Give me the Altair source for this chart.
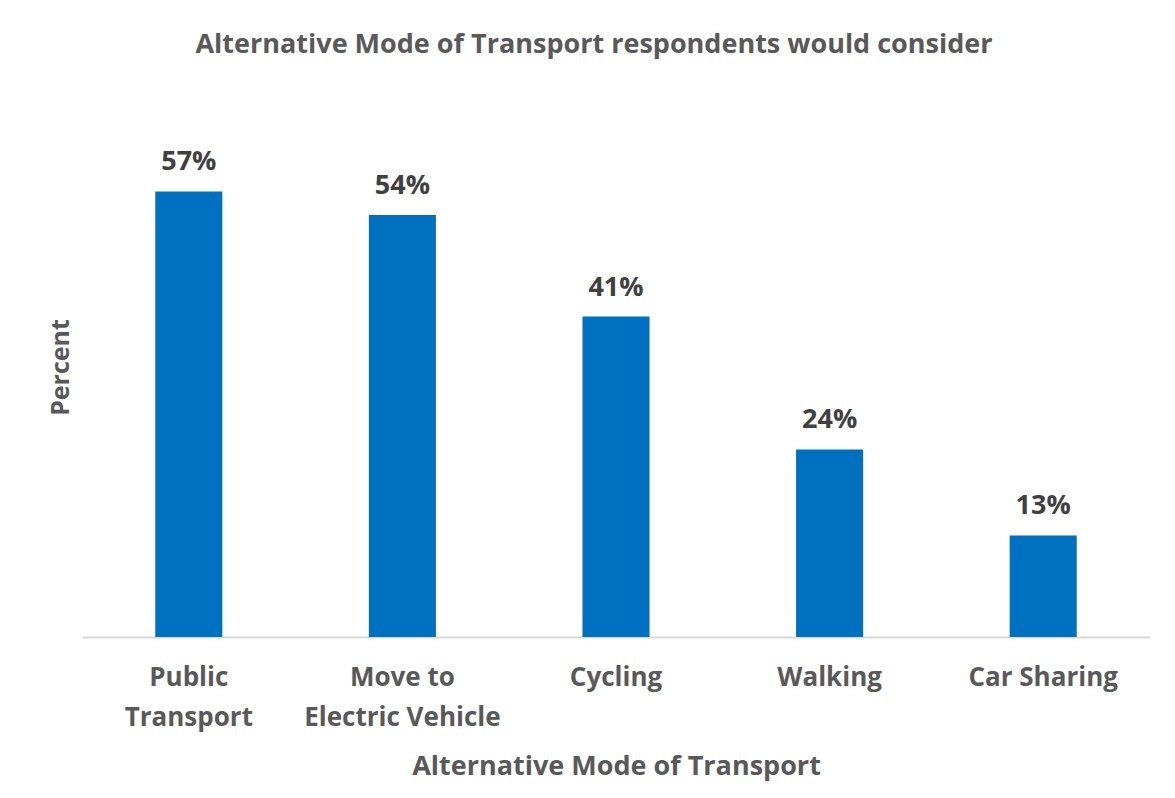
import altair as alt
import pandas as pd

categories = ["Public Transport", "Move to Electric Vehicle", "Cycling", "Walking", "Car Sharing"]
percents = [57, 54, 41, 24, 13]
label_lines = {
    "Public Transport": ["Public", "Transport"],
    "Move to Electric Vehicle": ["Move to", "Electric Vehicle"],
}

df = pd.DataFrame({"mode": categories, "pct": percents})
df["label"] = [f"{p}%" for p in percents]

expr = "datum.label"
for k, v in label_lines.items():
    expr = f"datum.label == '{k}' ? {v} : (" + expr + ")"

FONT = "Open Sans"
GREY = "#595959"

x = alt.X(
    "mode:N",
    sort=categories,
    title="Alternative Mode of Transport",
    scale=alt.Scale(paddingInner=0.686, paddingOuter=0.343),
    axis=alt.Axis(
        labelAngle=0,
        labelExpr=expr,
        labelFont=FONT,
        labelFontSize=26,
        labelFontWeight="bold",
        labelColor=GREY,
        labelBaseline="top",
        labelPadding=27,
        labelLineHeight=40,
        labelLimit=0,
        ticks=False,
        grid=False,
        domainColor="#D9D9D9",
        domainWidth=2,
        titleFont=FONT,
        titleFontSize=27,
        titleFontWeight="bold",
        titleColor=GREY,
        titleY=129,
        titleBaseline="middle",
    ),
)
y = alt.Y(
    "pct:Q",
    scale=alt.Scale(domain=[0, 60]),
    title="Percent",
    axis=alt.Axis(
        labels=False,
        ticks=False,
        domain=False,
        grid=False,
        titleFont=FONT,
        titleFontSize=25,
        titleFontWeight="bold",
        titleColor=GREY,
        titleX=-22,
        titleY=199,
        titleAngle=270,
        titleAlign="center",
        titleBaseline="middle",
    ),
)

bars = alt.Chart(df).mark_bar(color="#0070C0").encode(x=x, y=y)
text = alt.Chart(df).mark_text(
    font=FONT, fontSize=27, fontWeight="bold", color="#404040", baseline="alphabetic", dy=-21
).encode(x=alt.X("mode:N", sort=categories), y="pct:Q", text="label:N")

chart = (
    alt.layer(bars, text)
    .properties(
        width=1068,
        height=469,
        autosize=alt.AutoSizeParams(type="none"),
        padding={"left": 74, "top": 160, "right": 10, "bottom": 150},
        view=alt.ViewBackground(strokeOpacity=0, strokeWidth=0),
        title=alt.TitleParams(
            text="Alternative Mode of Transport respondents would consider",
            anchor="middle",
            dx=-22,
            offset=89,
            font=FONT,
            fontSize=27,
            fontWeight="bold",
            color=GREY,
        ),
    )
    .configure_view(strokeWidth=0, strokeOpacity=0)
    .configure(background="white")
)

chart.save("out.html", embed_options={"renderer": "svg", "actions": False})
